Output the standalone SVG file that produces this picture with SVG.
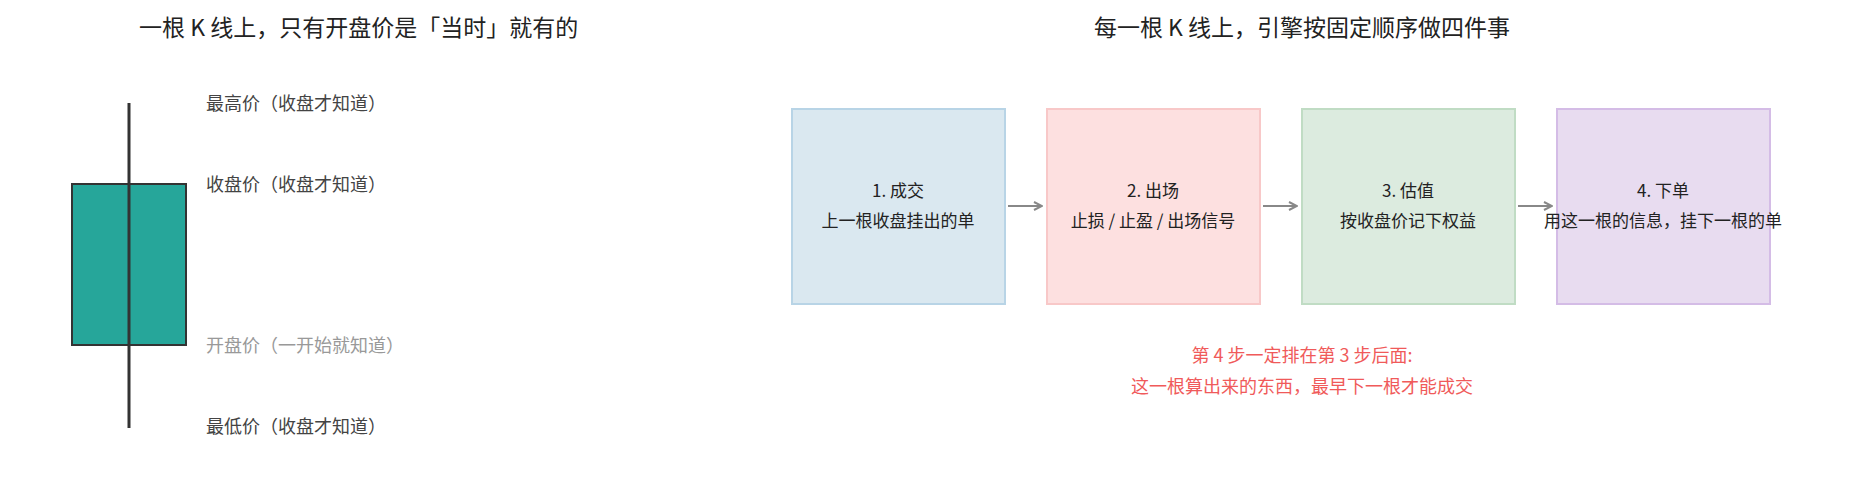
<svg xmlns="http://www.w3.org/2000/svg" width="1859" height="495" viewBox="0 0 1859 495">
<style>
text{font-family:"Noto Sans CJK SC","Noto Sans",sans-serif}
.title{font-size:23px;fill:#222}
.lab{font-size:18px;fill:#444}
.bt{font-size:17px;fill:#222;text-anchor:middle}
.note{font-size:18px;fill:#f05a5a;text-anchor:middle}
.conn{stroke:#888;stroke-width:2;fill:none}
</style>
<defs><marker id="ah" markerWidth="10" markerHeight="10" refX="9" refY="5" orient="auto" markerUnits="userSpaceOnUse"><path d="M1,1 L9,5 L1,9" stroke="#888" stroke-width="2" fill="none"/></marker></defs>
<rect width="1859" height="495" fill="#fff"/>
<text class="title" x="139" y="36">一根 K 线上，只有开盘价是「当时」就有的</text>
<text class="title" x="1302" y="36" text-anchor="middle">每一根 K 线上，引擎按固定顺序做四件事</text>
<g id="candle">
<rect x="72" y="184" width="114" height="161" fill="#26a69a" stroke="#333" stroke-width="2"/>
<line x1="129" y1="103" x2="129" y2="428" stroke="#333" stroke-width="3"/>
</g>
<g id="labels">
<text class="lab" x="206" y="110">最高价（收盘才知道）</text>
<text class="lab" x="206" y="191">收盘价（收盘才知道）</text>
<text class="lab" x="206" y="352" fill="#999" style="fill:#999">开盘价（一开始就知道）</text>
<text class="lab" x="206" y="433">最低价（收盘才知道）</text>
</g>
<g id="step1"><rect x="792" y="109" width="213" height="195" fill="#dae8f0" stroke="#b8d4e6" stroke-width="2"/>
<text class="bt" x="898" y="197">1. 成交</text><text class="bt" x="898" y="227">上一根收盘挂出的单</text></g>
<g id="step2"><rect x="1047" y="109" width="213" height="195" fill="#fde0e0" stroke="#f8c8c8" stroke-width="2"/>
<text class="bt" x="1153" y="197">2. 出场</text><text class="bt" x="1153" y="227">止损 / 止盈 / 出场信号</text></g>
<g id="step3"><rect x="1302" y="109" width="213" height="195" fill="#dcebdf" stroke="#c0dcc4" stroke-width="2"/>
<text class="bt" x="1408" y="197">3. 估值</text><text class="bt" x="1408" y="227">按收盘价记下权益</text></g>
<g id="step4"><rect x="1557" y="109" width="213" height="195" fill="#e8dcf0" stroke="#d4bce6" stroke-width="2"/>
<text class="bt" x="1663" y="197">4. 下单</text><text class="bt" x="1663" y="227">用这一根的信息，挂下一根的单</text></g>
<g id="connectors">
<line class="conn" x1="1008" y1="206" x2="1042" y2="206" marker-end="url(#ah)"/>
<line class="conn" x1="1263" y1="206" x2="1297" y2="206" marker-end="url(#ah)"/>
<line class="conn" x1="1518" y1="206" x2="1552" y2="206" marker-end="url(#ah)"/>
</g>
<g id="note">
<text class="note" x="1302" y="362">第 4 步一定排在第 3 步后面:</text>
<text class="note" x="1302" y="393">这一根算出来的东西，最早下一根才能成交</text>
</g>
</svg>
